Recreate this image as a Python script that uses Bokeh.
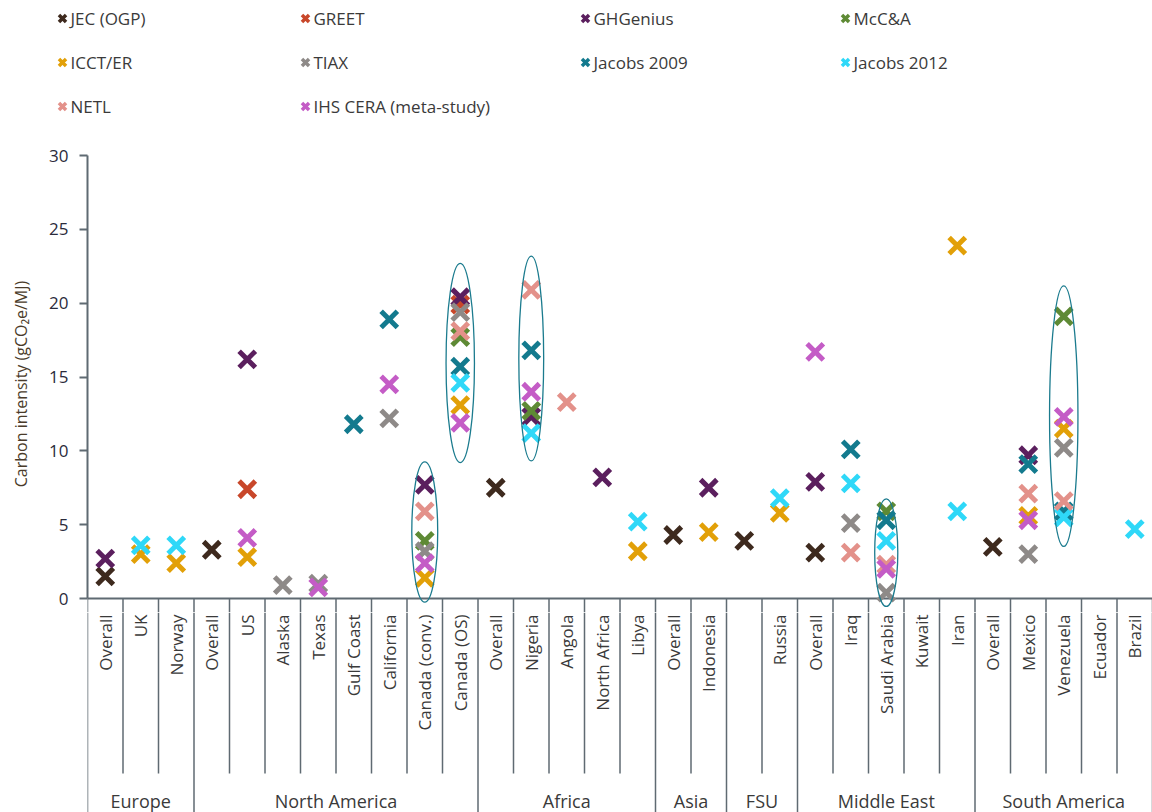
import math
from bokeh.plotting import figure
from bokeh.models import Range1d, FixedTicker, ColumnDataSource
from bokeh.core.properties import value
from bokeh.embed import file_html
from bokeh.resources import INLINE

FONT = "Open Sans"
TEXT = "#3a3a3a"
AXIS = "#5f6a72"

# Region / field categories along the x axis
regions = ["Europe", "North America", "Africa", "Asia", "FSU", "Middle East", "South America"]
region_sizes = [3, 8, 5, 2, 2, 5, 5]
fields = ["Overall", "UK", "Norway",
          "Overall", "US", "Alaska", "Texas", "Gulf Coast", "California", "Canada (conv.)", "Canada (OS)",
          "Overall", "Nigeria", "Angola", "North Africa", "Libya",
          "Overall", "Indonesia",
          "", "Russia",
          "Overall", "Iraq", "Saudi Arabia", "Kuwait", "Iran",
          "Overall", "Mexico", "Venezuela", "Ecuador", "Brazil"]

N = None
# Upstream carbon intensity (gCO2e/MJ) per study, one entry per field above
series_names = ["JEC (OGP)", "GREET", "GHGenius", "McC&A", "ICCT/ER", "TIAX",
                "Jacobs 2009", "Jacobs 2012", "NETL", "IHS CERA (meta-study)"]
series_colors = ["#3e2a1e", "#c8472a", "#5b1f5e", "#5e8a35", "#e2a008", "#8e8a88",
                 "#137a8e", "#2fd8f8", "#e3918a", "#c45cc6"]

jec      = [1.5, N, N, 3.3, N, N, N, N, N, N, N, 7.5, N, N, N, N, 4.3, N, 3.9, N, 3.1, N, N, N, N, 3.5, N, N, N, N]
greet    = [N, N, N, N, 7.4, N, N, N, N, N, 19.9, N, N, N, N, N, N, N, N, N, N, N, N, N, N, N, N, N, N, N]
ghgenius = [2.7, N, N, N, 16.2, N, N, N, N, 7.7, 20.4, N, 12.3, N, 8.2, N, N, 7.5, N, N, 7.9, N, N, N, N, N, 9.7, N, N, N]
mcca     = [N, N, N, N, N, N, N, N, N, 3.9, 17.7, N, 12.7, N, N, N, N, N, N, N, N, N, 5.9, N, N, N, N, 19.1, N, N]
icct     = [N, 3.0, 2.4, N, 2.8, N, N, N, N, 1.4, 13.1, N, N, N, N, 3.2, N, 4.5, N, 5.8, N, N, N, N, 23.9, N, 5.6, 11.5, N, N]
tiax     = [N, N, N, N, N, 0.9, 1.0, N, 12.2, 3.2, 19.4, N, N, N, N, N, N, N, N, N, N, 5.1, 0.4, N, N, N, 3.0, 10.2, N, N]
jacobs09 = [N, N, N, N, N, N, N, 11.8, 18.9, N, 15.7, N, 16.8, N, N, N, N, N, N, N, N, 10.1, 5.3, N, N, N, 9.1, 5.9, N, N]
jacobs12 = [N, 3.6, 3.6, N, N, N, N, N, N, N, 14.6, N, 11.2, N, N, 5.2, N, N, N, 6.8, N, 7.8, 3.9, N, 5.9, N, N, 5.5, N, 4.7]
netl     = [N, N, N, N, N, N, N, N, N, 5.9, 18.1, N, 20.9, 13.3, N, N, N, N, N, N, N, 3.1, 2.3, N, N, N, 7.1, 6.6, N, N]
ihs      = [N, N, N, N, 4.1, N, 0.75, N, 14.5, 2.4, 11.9, N, 14.0, N, N, N, N, N, N, N, 16.7, N, 2.0, N, N, N, 5.3, 12.3, N, N]
series_values = [jec, greet, ghgenius, mcca, icct, tiax, jacobs09, jacobs12, netl, ihs]

# Clusters circled on the chart: field, centre and vertical extent
ring_fields = ["Canada (conv.)", "Canada (OS)", "Nigeria", "Saudi Arabia", "Venezuela"]
ring_centre = [4.5, 15.95, 16.25, 3.1, 12.35]
ring_height = [9.5, 13.5, 13.9, 7.3, 17.7]
ring_width = [0.73, 0.8, 0.7, 0.65, 0.8]

y_ticks = [0, 5, 10, 15, 20, 25, 30]

n = len(fields)
xs = [i + 0.5 for i in range(n)]
px_per_unit = 443 / 30.0          # vertical scale shared by chart and category strip
y_low = -14 / px_per_unit         # margin under zero so low markers and the "0" label are not cut
y_bottom = -214 / px_per_unit     # bottom of the category strip


def bare(fig):
    fig.outline_line_color = None
    fig.grid.visible = False
    return fig


# ---------------- legend strip ----------------
leg = bare(figure(width=1152, height=140, output_backend="svg", toolbar_location=None,
                  x_range=Range1d(0, 1152), y_range=Range1d(140, 0),
                  min_border=0, x_axis_location=None, y_axis_location=None))
col_x = [62, 305, 585, 845]
row_y = [18, 62, 106]
lx = [col_x[k % 4] for k in range(len(series_names))]
ly = [row_y[k // 4] for k in range(len(series_names))]
leg.scatter(lx, ly, marker="x", size=10, line_width=3.5, color=series_colors)
leg.text([v + 8 for v in lx], ly, text=series_names, text_font=value(FONT),
         text_font_size="17px", text_color=TEXT, text_baseline="middle", text_align="left")

# ---------------- main chart ----------------
p = bare(figure(width=1152, height=15 + int(round(px_per_unit * (30 - y_low))),
                output_backend="svg", toolbar_location=None,
                x_range=Range1d(0, n), y_range=Range1d(y_low, 30),
                x_axis_location=None, min_border_left=87, min_border_right=0,
                min_border_top=15, min_border_bottom=0))

ya = p.yaxis[0]
ya.bounds = (0, 30)
ya.ticker = FixedTicker(ticks=y_ticks)
ya.minor_tick_line_color = None
ya.major_tick_in = 0
ya.major_tick_out = 8
ya.axis_line_color = AXIS
ya.axis_line_width = 2
ya.major_tick_line_color = AXIS
ya.major_tick_line_width = 2
ya.major_label_text_font = FONT
ya.major_label_text_font_size = "17px"
ya.major_label_text_color = "#2b2b3b"
ya.major_label_standoff = 11
ya.axis_label = "Carbon intensity (gCO\u2082e/MJ)"
ya.axis_label_text_font = FONT
ya.axis_label_text_font_size = "16px"
ya.axis_label_text_font_style = "normal"
ya.axis_label_text_color = "#4a3b2a"
ya.axis_label_standoff = 14

bounds = [0]
for s in region_sizes:
    bounds.append(bounds[-1] + s)
sub_sep = [i for i in range(1, n) if i not in bounds]

# baseline and the top of the separators
p.segment(x0=[0], y0=[0], x1=[n], y1=[0], line_color=AXIS, line_width=2)
seps = sub_sep + bounds
p.segment(x0=seps, y0=[0] * len(seps), x1=seps, y1=[y_low] * len(seps),
          line_color=AXIS, line_width=1.5)

# study markers
for name, color, vals in zip(series_names, series_colors, series_values):
    sx = [xs[i] for i, v in enumerate(vals) if v is not None]
    sy = [v for v in vals if v is not None]
    src = ColumnDataSource(dict(x=sx, y=sy))
    p.scatter("x", "y", source=src, marker="x", size=23, line_width=5, color=color)

# cluster rings
rx = [xs[fields.index(f)] for f in ring_fields]
p.ellipse(x=rx, y=ring_centre, width=ring_width, height=ring_height,
          fill_color=None, line_color="#1b7b8e", line_width=1.3)

# ---------------- category strip ----------------
c = bare(figure(width=1152, height=int(round(px_per_unit * (y_low - y_bottom))),
                output_backend="svg", toolbar_location=None,
                x_range=Range1d(0, n), y_range=Range1d(y_bottom, y_low),
                x_axis_location=None, y_axis_location=None,
                min_border_left=87, min_border_right=0, min_border_top=0, min_border_bottom=0))
sub_end = -175 / px_per_unit
c.segment(x0=sub_sep, y0=[y_low] * len(sub_sep), x1=sub_sep, y1=[sub_end] * len(sub_sep),
          line_color=AXIS, line_width=1.5)
c.segment(x0=bounds, y0=[y_low] * len(bounds), x1=bounds, y1=[y_bottom] * len(bounds),
          line_color=AXIS, line_width=1.5)
c.text(xs, [-16 / px_per_unit] * n, text=fields, angle=math.pi / 2,
       text_align="right", text_baseline="middle", text_font=value(FONT),
       text_font_size="17px", text_color=TEXT)
region_mid = [(bounds[k] + bounds[k + 1]) / 2 for k in range(len(regions))]
c.text(region_mid, [-202 / px_per_unit] * len(regions), text=regions,
       text_align="center", text_baseline="middle", text_font=value(FONT),
       text_font_size="18px", text_color=TEXT)

open("out.html", "w").write(file_html([leg, p, c], INLINE))
